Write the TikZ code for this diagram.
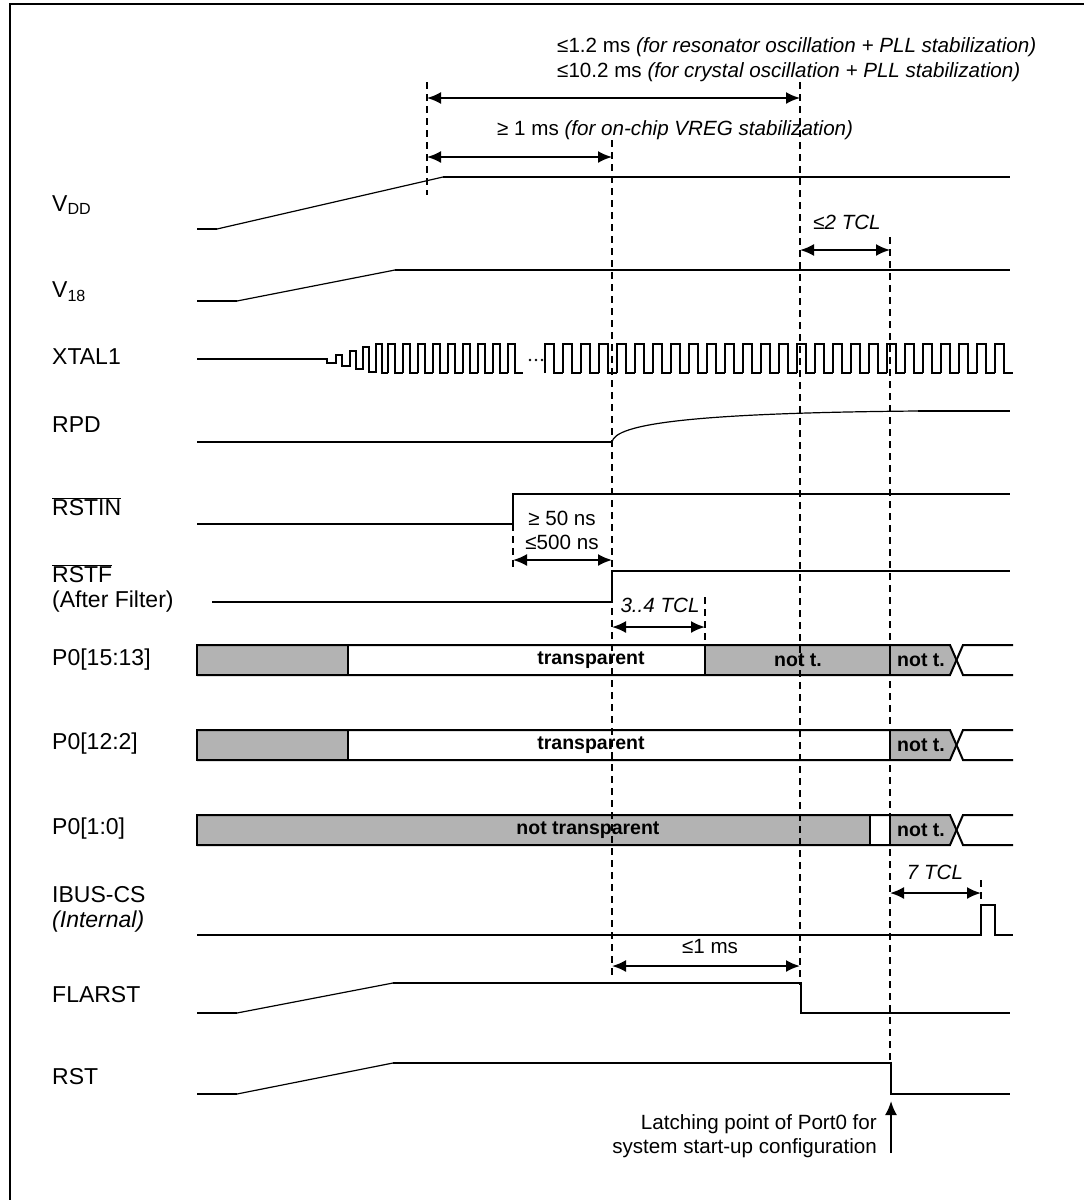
\documentclass[tikz,border=0pt]{standalone}
\usepackage{fontspec}
\setmainfont{Liberation Sans}
\usetikzlibrary{arrows.meta}
\definecolor{busgray}{RGB}{179,179,179}
\begin{document}
\begin{tikzpicture}[x=1pt,y=-1pt,
  sig/.style={line width=2pt, line join=miter},
  ramp/.style={line width=1.2pt},
  vdash/.style={line width=1.6pt, dash pattern=on 7pt off 5pt},
  dim/.style={line width=2pt, {Latex[length=14pt,width=12pt]}-{Latex[length=14pt,width=12pt]}},
  sigl/.style={font=\fontsize{23}{26}\selectfont, inner sep=0pt, anchor=west},
  lbl/.style={font=\fontsize{20.6}{24}\selectfont, inner sep=0pt, anchor=west},
  txt/.style={font=\fontsize{20.6}{24}\selectfont, inner sep=0pt},
  btxt/.style={font=\fontsize{19.5}{23}\selectfont\bfseries, inner sep=0pt},
  busfill/.style={fill=busgray},
  busline/.style={line width=2pt},
  xdot/.style={fill=black, draw=none}
]
\useasboundingbox (0,0) rectangle (1084,1200);
\draw[line width=2pt] (10,1215) -- (10,4) -- (1095,4);

% ---------- signal labels ----------
\node[sigl] (lVDD) at (52,205) {V\textsubscript{DD}};
\node[sigl] (lV18) at (52,292) {V\textsubscript{18}};
\node[sigl] (lXT) at (52,357) {XTAL1};
\node[sigl] (lRPD) at (52,425) {RPD};
\node[sigl] (lRSTIN) at (52,507) {$\overline{\mbox{RSTIN}}$};
\node[sigl] (lRSTF) at (52,574) {$\overline{\mbox{RSTF}}$};
\node[sigl] (lAF) at (52,602) {(After Filter)};
\node[sigl] (lP1) at (52,660) {P0[15:13]};
\node[sigl] (lP2) at (52,744) {P0[12:2]};
\node[sigl] (lP3) at (52,829) {P0[1:0]};
\node[sigl] (lIB) at (52,895) {IBUS-CS};
\node[sigl] (lIBi) at (52,922) {\itshape (Internal)};
\node[sigl] (lFL) at (52,995) {FLARST};
\node[sigl] (lRST) at (52,1077) {RST};

% ---------- VDD ----------
\draw[sig] (197,229) -- (217,229);
\draw[ramp] (217,229) -- (443,177);
\draw[sig] (443,177) -- (1010,177);
% ---------- V18 ----------
\draw[sig] (197,301) -- (237,301);
\draw[ramp] (237,301) -- (395,270);
\draw[sig] (395,270) -- (1010,270);
% ---------- XTAL1 ----------
\draw[sig] (197,359) -- (327,359) -- (327,363) -- (336,363) -- (336,355) -- (342,355)
  -- (342,366) -- (350,366) -- (350,351) -- (356,351) -- (356,369) -- (363,369)
  -- (363,347) -- (369,347) -- (369,372) -- (376,372) -- (376,344) -- (382,344)
  -- (382,373) -- (388,373);
\foreach \k in {0,...,8}{
  \draw[sig] ({388+15*\k},373) -- ({388+15*\k},344) -- ({395+15*\k},344)
    -- ({395+15*\k},373) -- ({403+15*\k},373);
}
\fill[xdot] (530,360) circle (1.4pt) (536,360) circle (1.4pt) (542,360) circle (1.4pt);
\foreach \k in {0,...,25}{
  \draw[sig] ({545+18*\k},373) -- ({545+18*\k},344) -- ({554+18*\k},344)
    -- ({554+18*\k},373) -- ({563+18*\k},373);
}
% ---------- RPD ----------
\draw[sig] (197,442) -- (612,442);
\draw[ramp] (612,442) .. controls (615,424) and (690,413) .. (918,411);
\draw[sig] (918,411) -- (1010,411);
% ---------- RSTIN ----------
\draw[sig] (197,524) -- (513,524) -- (513,494) -- (1010,494);
% ---------- RSTF ----------
\draw[sig] (212,602) -- (612,602) -- (612,571) -- (1010,571);

% ---------- P0[15:13] ----------
\fill[busfill] (197,645) rectangle (348,675);
\fill[busfill] (705,645) rectangle (890,675);
\fill[busfill] (890,645) -- (950,645) -- (956.5,660) -- (950,675) -- (890,675) -- cycle;
\draw[busline] (197,645) -- (950,645) -- (963,675) -- (1013,675);
\draw[busline] (197,675) -- (950,675) -- (963,645) -- (1013,645);
\draw[busline] (197,644) -- (197,676) (348,645) -- (348,675) (705,645) -- (705,675) (890,645) -- (890,675);
\node[btxt] (t1a) at (591,660) {transparent};
\node[btxt] (t1b) at (798,660) {not t.};
\node[btxt] (t1c) at (921,660) {not t.};

% ---------- P0[12:2] ----------
\fill[busfill] (197,730) rectangle (348,760);
\fill[busfill] (890,730) -- (950,730) -- (956.5,745) -- (950,760) -- (890,760) -- cycle;
\draw[busline] (197,730) -- (950,730) -- (963,760) -- (1013,760);
\draw[busline] (197,760) -- (950,760) -- (963,730) -- (1013,730);
\draw[busline] (197,729) -- (197,761) (348,730) -- (348,760) (890,730) -- (890,760);
\node[btxt] (t2a) at (591,745) {transparent};
\node[btxt] (t2c) at (921,745) {not t.};

% ---------- P0[1:0] ----------
\fill[busfill] (197,815) rectangle (870,845);
\fill[busfill] (890,815) -- (950,815) -- (956.5,830) -- (950,845) -- (890,845) -- cycle;
\draw[busline] (197,815) -- (950,815) -- (963,845) -- (1013,845);
\draw[busline] (197,845) -- (950,845) -- (963,815) -- (1013,815);
\draw[busline] (197,814) -- (197,846) (870,815) -- (870,845) (890,815) -- (890,845);
\node[btxt] (t3a) at (588,830) {not transparent};
\node[btxt] (t3c) at (921,830) {not t.};

% ---------- IBUS-CS ----------
\draw[sig] (197,935) -- (981,935) -- (981,905) -- (995,905) -- (995,935) -- (1013,935);
% ---------- FLARST ----------
\draw[sig] (197,1013) -- (237,1013);
\draw[ramp] (237,1013) -- (393,983);
\draw[sig] (393,983) -- (801,983) -- (801,1013) -- (1010,1013);
% ---------- RST ----------
\draw[sig] (197,1094) -- (237,1094);
\draw[ramp] (237,1094) -- (393,1063);
\draw[sig] (393,1063) -- (891,1063) -- (891,1094) -- (1010,1094);

% ---------- dashed time markers ----------
\draw[vdash] (427,82) -- (427,195);
\draw[vdash] (612,140) -- (612,975);
\draw[vdash] (800,82) -- (800,985);
\draw[vdash] (890,237) -- (890,1063);
\draw[vdash] (513,524) -- (513,568);
\draw[vdash] (705,597) -- (705,645);
\draw[vdash] (981,880) -- (981,905);

% ---------- dimension arrows ----------
\coordinate (a1s) at (427,98);  \coordinate (a1e) at (800,98);
\coordinate (a2s) at (427,157); \coordinate (a2e) at (612,157);
\coordinate (a3s) at (800,250); \coordinate (a3e) at (890,250);
\coordinate (a4s) at (513,560); \coordinate (a4e) at (612,560);
\coordinate (a5s) at (612,627); \coordinate (a5e) at (705,627);
\coordinate (a6s) at (890,893); \coordinate (a6e) at (981,893);
\coordinate (a7s) at (612,966); \coordinate (a7e) at (800,966);
\draw[dim] (a1s) -- (a1e);
\draw[dim] (a2s) -- (a2e);
\draw[dim] (a3s) -- (a3e);
\draw[dim] (a4s) -- (a4e);
\draw[dim] (a5s) -- (a5e);
\draw[dim] (a6s) -- (a6e);
\draw[dim] (a7s) -- (a7e);

% ---------- annotations ----------
\node[lbl] (n1) at (557,47) {≤1.2 ms \textit{(for resonator oscillation + PLL stabilization)}};
\node[lbl] (n2) at (557,72) {≤10.2 ms \textit{(for crystal oscillation + PLL stabilization)}};
\node[lbl] (n3) at (497,130) {≥ 1 ms \textit{(for on-chip VREG stabilization)}};
\node[txt] (n4) at (847,222) {\itshape ≤2 TCL};
\node[txt, align=center] (n5) at (562,530) {≥ 50 ns\\≤500 ns};
\node[txt] (n6) at (660,605) {\itshape 3..4 TCL};
\node[txt] (n7) at (935,872) {\itshape 7 TCL};
\node[txt] (n8) at (710,947) {≤1 ms};
\node[txt, align=right, anchor=east] (n9) at (877,1136) {Latching point of Port0 for\\system start-up configuration};
\coordinate (latchTail) at (891,1153);
\coordinate (latchTip) at (891,1101);
\draw[line width=2pt, -{Latex[length=14pt,width=12pt]}] (latchTail) -- (latchTip);
\end{tikzpicture}
\end{document}
